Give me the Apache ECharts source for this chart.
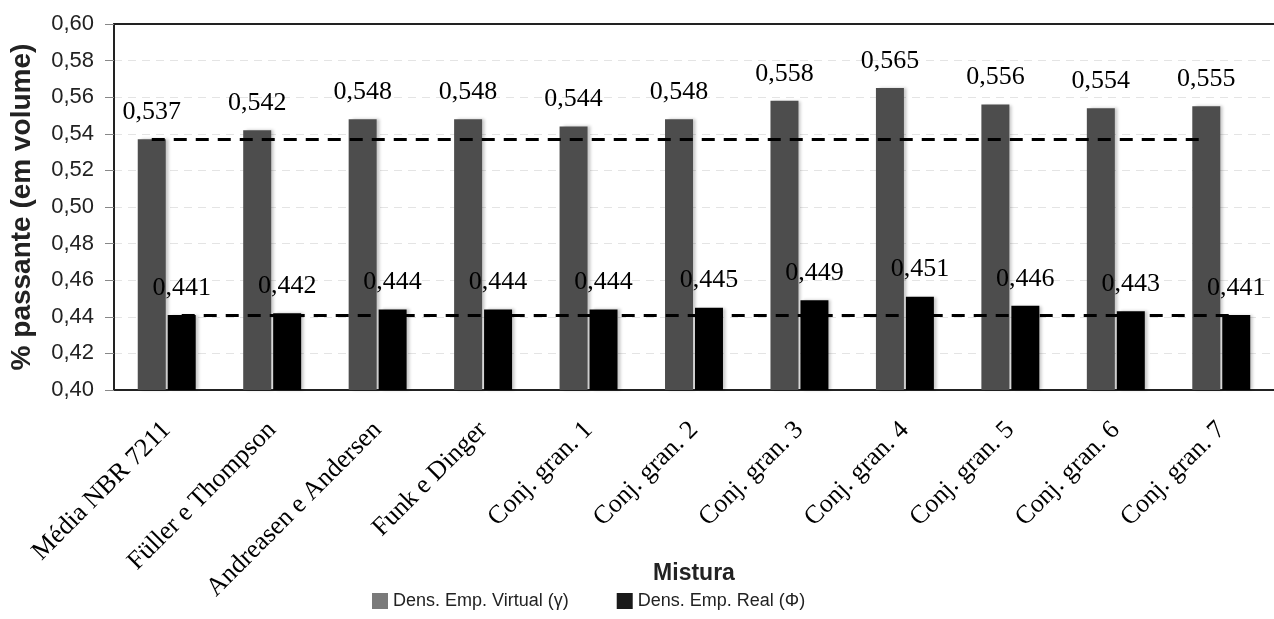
<!DOCTYPE html>
<html>
<head>
<meta charset="utf-8">
<script src="https://cdn.jsdelivr.net/npm/echarts@6/dist/echarts.min.js"></script>
<style>
html,body{margin:0;padding:0;background:#fff;}
#c{width:1274px;height:619px;}
</style>
</head>
<body>
<div id="c"></div>
<script>
var categories = ["Média NBR 7211","Füller e Thompson","Andreasen e Andersen","Funk e Dinger","Conj. gran. 1","Conj. gran. 2","Conj. gran. 3","Conj. gran. 4","Conj. gran. 5","Conj. gran. 6","Conj. gran. 7"];
var virtualVals = [0.537,0.542,0.548,0.548,0.544,0.548,0.558,0.565,0.556,0.554,0.555];
var realVals = [0.441,0.442,0.444,0.444,0.444,0.445,0.449,0.451,0.446,0.443,0.441];
var refVirtual = 0.537;
var refReal = 0.441;
var seriesNames = ["Dens. Emp. Virtual (\u03b3)","Dens. Emp. Real (\u03a6)"];

function fmt(v, d){ return v.toFixed(d).replace('.', ','); }

var chart = echarts.init(document.getElementById('c'));
var shadow = {shadowColor:'rgba(0,0,0,0.22)', shadowBlur:3, shadowOffsetX:3};
var lbl = {show:true, position:'top', distance:14, fontFamily:'Liberation Serif', fontSize:26, color:'#000',
  formatter:function(p){return fmt(p.value,3);}};
var dashLine = {symbol:'none', silent:true, label:{show:false},
  lineStyle:{color:'#000', type:[13,9], width:3}};

chart.setOption({
  animation:false,
  grid:{left:114, right:0, top:24, bottom:229, containLabel:false, outerBoundsMode:'none'},
  legend:{
    left:367, bottom:4, itemWidth:16, itemHeight:16, itemGap:48,
    icon:'rect',
    textStyle:{fontFamily:'Liberation Sans', fontSize:18, color:'#222'},
    data:[{name:seriesNames[0], itemStyle:{color:'#7a7a7a'}},{name:seriesNames[1], itemStyle:{color:'#1a1a1a'}}]
  },
  xAxis:[{
    type:'category', data:categories,
    name:'Mistura', nameLocation:'middle', nameGap:172, nameMoveOverlap:false,
    nameTextStyle:{fontFamily:'Liberation Sans', fontWeight:'bold', fontSize:23, color:'#222'},
    axisLine:{lineStyle:{color:'#222', width:2}},
    axisTick:{show:false},
    axisLabel:{rotate:45, margin:36, fontFamily:'Liberation Serif', fontSize:26, color:'#000', interval:0}
  },{
    type:'category', data:categories, position:'top',
    axisLine:{lineStyle:{color:'#222', width:2}},
    axisTick:{show:false}, axisLabel:{show:false}
  }],
  yAxis:{
    type:'value', min:0.40, max:0.60, interval:0.02,
    name:'% passante (em volume)', nameLocation:'middle', nameGap:78, nameMoveOverlap:false,
    nameTextStyle:{fontFamily:'Liberation Sans', fontWeight:'bold', fontSize:28, color:'#222'},
    axisLine:{show:true, lineStyle:{color:'#222', width:2}},
    axisTick:{show:true, length:9, lineStyle:{color:'#888'}},
    axisLabel:{fontFamily:'Liberation Sans', fontSize:22, color:'#222', margin:20,
      formatter:function(v){return fmt(v,2);}},
    splitLine:{show:true, lineStyle:{color:'#e4e4e4', type:[8,6]}}
  },
  series:[{
    name:seriesNames[0], type:'bar', data:virtualVals, barWidth:28, barGap:'7%',
    itemStyle:Object.assign({color:'#4d4d4d'}, shadow),
    label:lbl,
    markLine:Object.assign({z:10, data:[[{coord:[0,refVirtual]},{coord:[10,refVirtual]}]]}, dashLine)
  },{
    name:seriesNames[1], type:'bar', data:realVals, barWidth:28,
    itemStyle:Object.assign({color:'#000'}, shadow),
    label:lbl,
    markLine:Object.assign({z:10, data:[[{coord:[0,refReal]},{coord:[10,refReal]}]]}, dashLine)
  }]
});
</script>
</body>
</html>
